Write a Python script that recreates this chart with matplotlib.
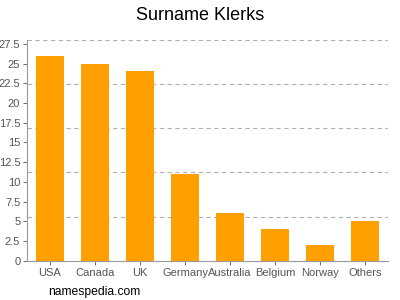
import matplotlib
matplotlib.use("Agg")
import matplotlib.pyplot as plt
import numpy as np

plt.rcParams['font.family'] = ['Liberation Sans', 'DejaVu Sans']

countries = ["USA", "Canada", "UK", "Germany", "Australia", "Belgium", "Norway", "Others"]
counts = [26, 25, 24, 11, 6, 4, 2, 5]
ytick_vals = [0, 2.5, 5, 7.5, 10, 12.5, 15, 17.5, 20, 22.5, 25, 27.5]
ymax = 28

fig = plt.figure(figsize=(4, 3), dpi=100)
ax = fig.add_axes([0.068, 0.131, 0.902, 0.736])

x = np.arange(len(countries))
ax.bar(x, counts, width=0.62, color="#ffa000", zorder=3)

# namespedia style grid: 5 even steps up to the top
for g in np.linspace(ymax / 5, ymax, 5):
    ax.axhline(g, color="#b0b0b0", linestyle=(0, (4, 3)), linewidth=0.8, zorder=1)

ax.set_xlim(-0.5, len(countries) - 0.5)
ax.set_ylim(0, ymax)
ax.set_xticks(x)
ax.set_xticklabels(countries)
ax.set_yticks(ytick_vals)
ax.set_yticklabels([f"{v:g}" for v in ytick_vals])
ax.tick_params(axis="both", labelsize=8, colors="#555555", length=3, width=0.6, pad=2)

for side in ["top", "right"]:
    ax.spines[side].set_visible(False)
for side in ["left", "bottom"]:
    ax.spines[side].set_color("#999999")
    ax.spines[side].set_linewidth(0.8)

fig.text(0.5, 0.95, "Surname Klerks", ha="center", va="center", fontsize=13)
fig.text(0.12, 0.028, "namespedia.com", ha="left", va="center", fontsize=8.7)

fig.savefig("out.png", dpi=100)
